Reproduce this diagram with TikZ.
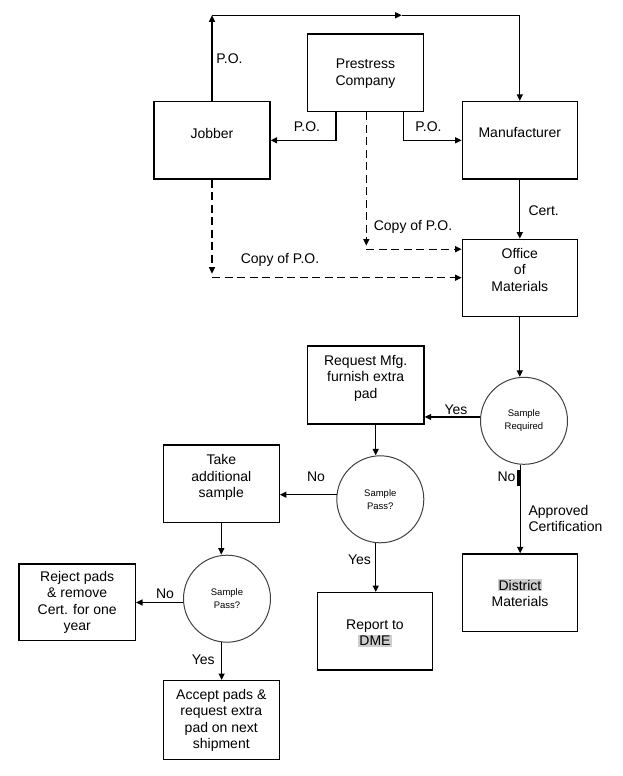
\documentclass[tikz,border=0pt]{standalone}
\usepackage{fontspec}
\setmainfont{Liberation Sans}
\usetikzlibrary{arrows.meta}
\definecolor{hlgray}{RGB}{205,205,205}
\newcommand{\hlword}[1]{{\setlength{\fboxsep}{1pt}\colorbox{hlgray}{#1}}}
\tikzset{
  box/.style={draw, line width=1.3pt, inner sep=0pt, minimum width=116pt, minimum height=77.5pt},
  txt/.style={font=\fontsize{14}{16.5}\selectfont, align=center, inner sep=0pt},
  lbl/.style={font=\fontsize{14}{16.5}\selectfont, inner sep=0pt},
  circ/.style={draw=black!75, line width=1pt, circle, inner sep=0pt, minimum size=87pt,
    font=\fontsize{9.5}{13}\selectfont, align=center},
  arr/.style={line width=1.3pt, -{Triangle[length=6.5pt,width=6pt]}},
  plain/.style={line width=1.3pt},
  dasharr/.style={line width=1.3pt, dash pattern=on 8pt off 4.5pt, -{Triangle[length=6.5pt,width=6pt]}},
}
\begin{document}
\begin{tikzpicture}[x=1pt,y=-1pt]
\useasboundingbox (0,0) rectangle (623,776);
% boxes
\node[box, minimum height=77.7pt] (pc) at (365.5,72.8) {};
\node[txt] (pctxt) at (365.5,73.5) {Prestress\\Company};
\node[box] (jobber) at (212,140.3) {};
\node[txt] (jobtxt) at (212,133) {Jobber};
\node[box, minimum width=115pt] (manuf) at (519.8,140.3) {};
\node[txt] (mantxt) at (519.8,133) {Manufacturer};
\node[box, minimum width=115pt, minimum height=77.4pt] (office) at (519.8,278) {};
\node[txt] (offtxt) at (519.8,269.5) {Office\\of\\Materials};
\node[box, minimum width=116.7pt, minimum height=78pt] (request) at (365.7,385) {};
\node[txt] (reqtxt) at (365.7,378) {Request Mfg.\\furnish extra\\pad};
\node[box, minimum height=77.7pt] (take) at (221.3,483.8) {};
\node[txt] (taketxt) at (221.3,477.5) {Take\\additional\\sample};
\node[box, minimum width=116.3pt, minimum height=76.7pt] (reject) at (77.2,602.3) {};
\node[txt] (rejtxt) at (77.2,602.5) {Reject pads\\\& remove\\Cert. for one\\year};
\node[box, minimum height=78.6pt] (accept) at (221.3,720) {};
\node[txt] (acctxt) at (221.3,720.3) {Accept pads \&\\request extra\\pad on next\\shipment};
\node[box, minimum width=115.4pt, minimum height=77.3pt] (report) at (375,631.3) {};
\node[txt] (reptxt) at (375,633) {Report to\\\hlword{DME}};
\node[box, minimum width=114.6pt, minimum height=77.7pt] (district) at (520,592.8) {};
\node[txt] (distxt) at (520,593) {\hlword{District}\\Materials};
% decision circles
\node[circ] (sr) at (524,420.8) {Sample\\Required};
\node[circ] (sp1) at (380.3,499.3) {Sample\\Pass?};
\node[circ] (sp2) at (227,598.7) {Sample\\Pass?};
% top loop
\coordinate (topL) at (212,15.3);
\coordinate (topM) at (401.7,15.3);
\coordinate (topR) at (519.8,15.3);
\draw[arr] (jobber.north) -- (topL);
\draw[arr] (topL) -- (topM);
\draw[plain] (topM) -- (topR);
\draw[arr] (topR) -- (manuf.north);
\node[lbl] (po1) at (229.5,59) {P.O.};
% P.O. from prestress
\draw[arr] ([xshift=-29.5pt]pc.south) |- (jobber.east);
\node[lbl] (po2) at (307,127) {P.O.};
\draw[arr] ([xshift=38.2pt]pc.south) |- (manuf.west);
\node[lbl] (po3) at (428.5,127) {P.O.};
% copies of P.O.
\coordinate (c1) at (366.3,249.2);
\draw[dasharr] ([xshift=0.8pt]pc.south) -- ([yshift=3.5pt]c1);
\draw[dasharr] (c1) -- (c1 -| office.west);
\node[lbl] (cp1) at (413,226.7) {Copy of P.O.};
\coordinate (c2) at (212,277.7);
\draw[dasharr] (jobber.south) -- ([yshift=4pt]c2);
\draw[dasharr] (c2) -- (c2 -| office.west);
\node[lbl] (cp2) at (280,260) {Copy of P.O.};
% cert
\draw[arr] (manuf.south) -- (office.north);
\node[lbl, anchor=west] (cert) at (528.3,210.7) {Cert.};
% office to sample required
\draw[arr] (office.south) -- (office.south |- sr.north);
% yes to request
\draw[arr] (sr.175) -- (sr.175 -| request.east);
\node[lbl] (yes1) at (456,410) {Yes};
% request to sample pass 1
\draw[arr] ([xshift=10pt]request.south) -- ([xshift=10pt]request.south |- sp1.north);
% no to take
\draw[arr] (sp1.174) -- (sp1.174 -| take.east);
\node[lbl] (no1) at (316,476.7) {No};
% yes to report
\draw[arr] (sp1.264) -- (sp1.264 |- report.north);
\node[lbl] (yes2) at (359.5,560) {Yes};
% no to district
\draw[arr] (sr.265) -- (sr.265 |- district.north);
\fill (516.6,470) rectangle (520.4,485.5);
\node[lbl] (no2) at (506.5,476.5) {No};
\node[lbl, anchor=west, align=left, font=\fontsize{14}{16}\selectfont] (appr) at (528.3,518) {Approved\\Certification};
% take to sample pass 2
\draw[arr] (take.south) -- (take.south |- sp2.north);
% no to reject
\draw[arr] (sp2.185) -- (sp2.185 -| reject.east);
\node[lbl] (no3) at (165,593.3) {No};
% yes to accept
\draw[arr] (sp2.263) -- (sp2.263 |- accept.north);
\node[lbl] (yes3) at (203.3,660) {Yes};
\end{tikzpicture}
\end{document}
